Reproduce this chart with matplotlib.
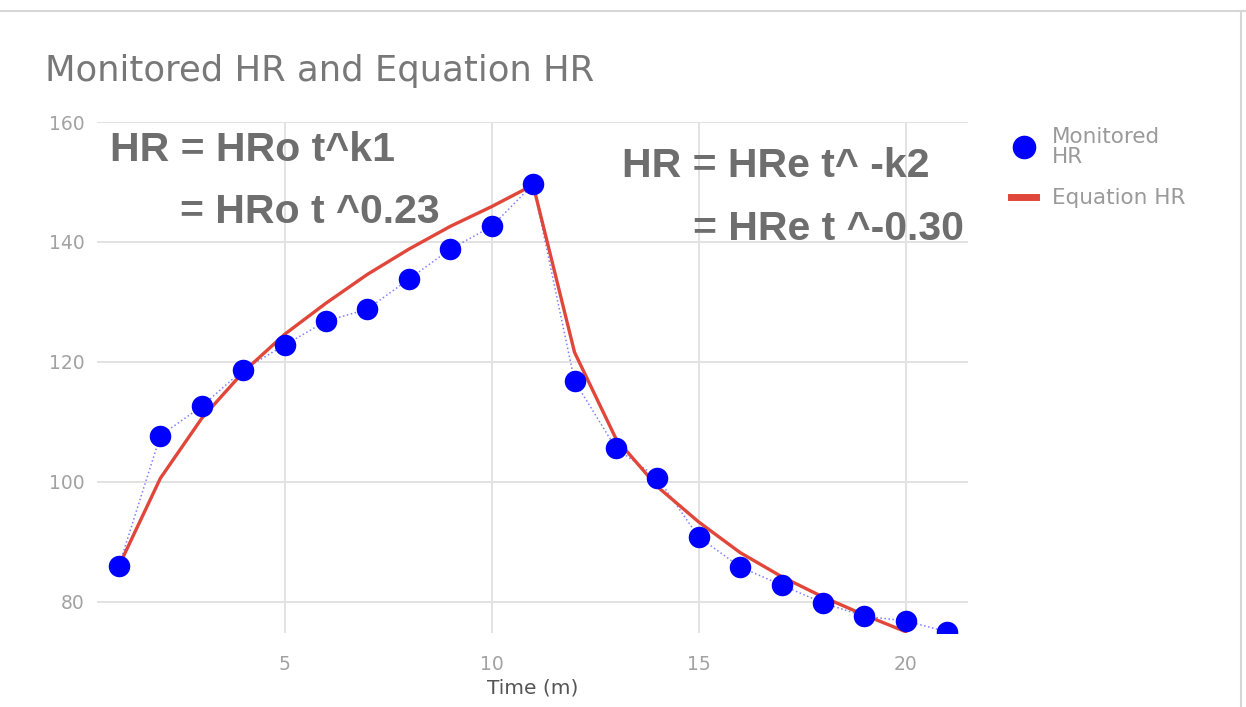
import matplotlib.pyplot as plt
from matplotlib.lines import Line2D

# time in minutes
time_m = list(range(1, 22))
monitored_hr = [86, 107.7, 112.6, 118.7, 122.8, 126.8, 128.8, 133.8, 138.8, 142.6, 149.6,
                116.8, 105.6, 100.7, 90.8, 85.8, 82.8, 79.8, 77.6, 76.8, 75]
# equation curve only runs to t = 20
eq_time = list(range(1, 21))
equation_hr = [86, 100.6, 110.6, 118.3, 124.6, 129.8, 134.6, 138.8, 142.6, 145.9, 149.5,
               121.6, 107.2, 99.2, 93.3, 88.2, 84.2, 80.8, 77.8, 75.0]

x_ticks = [5, 10, 15, 20]
y_ticks = [80, 100, 120, 140, 160]

W, H = 1246, 707
fig = plt.figure(figsize=(W / 100, H / 100), dpi=100)
fig.patch.set_facecolor('white')

ax = fig.add_axes([97 / W, 1 - 633 / H, (968 - 97) / W, (633 - 122) / H])
ax.set_xlim(0.47, 21.5)
ax.set_ylim(74.8, 160)

ax.set_xticks(x_ticks)
ax.set_yticks(y_ticks)
ax.grid(True, color='#e2e2e2', linewidth=1.4)
ax.set_axisbelow(True)
for s in ax.spines.values():
    s.set_visible(False)
ax.tick_params(length=0, labelsize=13.5, labelcolor='#a2a2a2')
ax.tick_params(axis='y', pad=9)
ax.tick_params(axis='x', pad=16)

ax.plot(time_m, monitored_hr, color='#8080ff', linestyle=':', linewidth=1.1, zorder=2)
ax.plot(eq_time, equation_hr, color='#e0473a', linewidth=2.4, zorder=3)
ax.plot(time_m, monitored_hr, 'o', color='#0000ff', markersize=15.5, markeredgewidth=0,
        zorder=4)

ax.set_xlabel('Time (m)', fontsize=14.5, color='#555555', labelpad=3)

# title
fig.text(45 / W, 1 - 71 / H, 'Monitored HR and Equation HR',
         fontsize=25.5, color='#787878', va='center', ha='left')

# equation annotations
ann = dict(family=['Liberation Sans Narrow', 'Liberation Sans'], fontweight='bold',
           fontsize=29.5, color='#6e6e6e', va='center', ha='left')
fig.text(110 / W, 1 - 150 / H, 'HR = HRo t^k1', **ann)
fig.text(180 / W, 1 - 212 / H, '= HRo t ^0.23', **ann)
fig.text(622 / W, 1 - 166 / H, 'HR = HRe t^ -k2', **ann)
fig.text(693 / W, 1 - 229 / H, '= HRe t ^-0.30', **ann)

# legend
handles = [
    Line2D([], [], marker='o', color='#0000ff', linestyle='none', markersize=16),
    Line2D([], [], color='#e0473a', linewidth=5),
]
leg = fig.legend(handles, ['Monitored\nHR', 'Equation HR'], loc='upper left',
                 bbox_to_anchor=(1002 / W, 1 - 118 / H), frameon=False,
                 prop={'size': 15.5}, handlelength=1.2,
                 handletextpad=0.7, labelspacing=1.0, borderaxespad=0)
for t in leg.get_texts():
    t.set_color('#9a9a9a')
    t.set_linespacing(1.0)

# page border around the chart
fig.add_artist(Line2D([0, 1], [1 - 11 / H, 1 - 11 / H], color='#d6d6d6', linewidth=1.5))
fig.add_artist(Line2D([1241 / W, 1241 / W], [1 - 11 / H, 0], color='#d6d6d6', linewidth=1.5))

fig.savefig('out.png', dpi=100)
